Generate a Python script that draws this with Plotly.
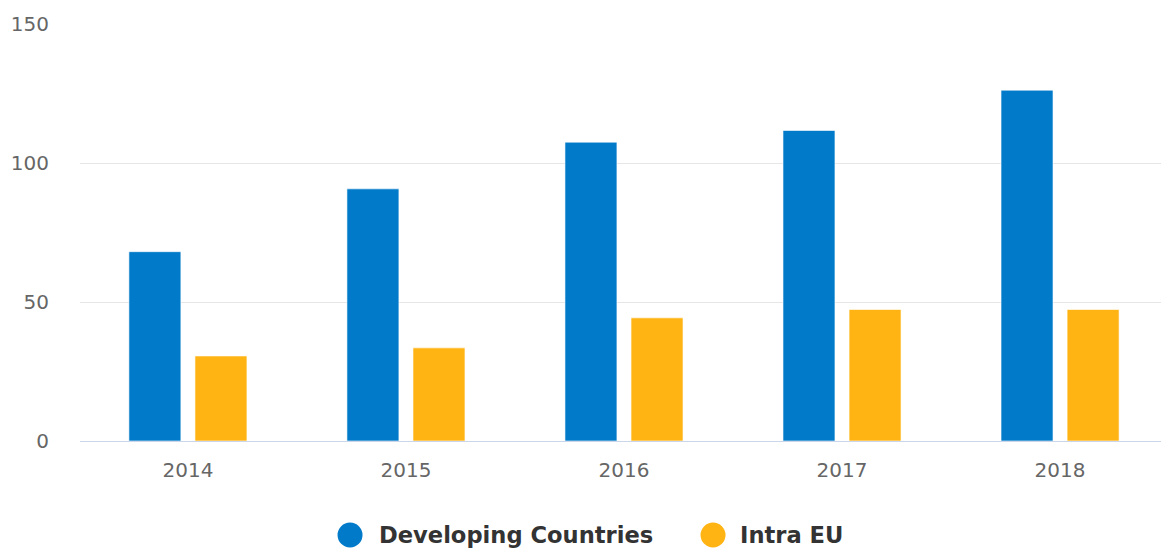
import plotly.graph_objects as go

years = ["2014", "2015", "2016", "2017", "2018"]
developing = [68.1, 90.7, 107.5, 111.7, 126.2]
intra_eu = [30.6, 33.5, 44.3, 47.3, 47.3]
series_names = ["Developing Countries", "Intra EU"]
colors = ["#007ac9", "#ffb414"]
y_ticks = [0, 50, 100, 150]

fig = go.Figure()
for name, vals, col in zip(series_names, [developing, intra_eu], colors):
    fig.add_trace(go.Bar(
        x=years, y=vals, name=name, marker_color=col,
        marker_line=dict(color="rgba(255,255,255,0.6)", width=1),
        showlegend=False, hoverinfo="x+y+name",
    ))

# custom legend (large circle symbols, like the reference)
legend_circle_x = [0.2498, 0.5856]
legend_text_x = [0.2747, 0.6087]
legend_y = -0.2254
for name, col, cx, tx in zip(series_names, colors, legend_circle_x, legend_text_x):
    fig.add_shape(
        type="circle", xref="paper", yref="paper",
        xsizemode="pixel", ysizemode="pixel",
        xanchor=cx, yanchor=legend_y, x0=-12.5, x1=12.5, y0=-12.5, y1=12.5,
        fillcolor=col, line=dict(width=0),
    )
    fig.add_annotation(
        text=name, xref="paper", yref="paper", x=tx, y=legend_y,
        xanchor="left", yanchor="middle", showarrow=False,
        font=dict(family="DejaVu Sans", size=22.6, color="#333333", weight="bold"),
    )

fig.update_layout(
    width=1161, height=549,
    margin=dict(l=80, r=0, t=24, b=108, autoexpand=False),
    paper_bgcolor="white", plot_bgcolor="white",
    barmode="group", bargap=0.394, bargroupgap=0.213,
    font=dict(family="DejaVu Sans", size=20, color="#666666"),
    showlegend=False,
    xaxis=dict(
        type="category", range=[-0.495, 4.463], showgrid=False,
        showline=True, linecolor="#ccd6eb", linewidth=1,
        ticks="", tickfont=dict(size=20, color="#666666"),
        ticklabelstandoff=11, zeroline=False,
    ),
    yaxis=dict(
        range=[0, 150], tickvals=y_ticks, showgrid=True, gridcolor="#e6e6e6",
        gridwidth=1, zeroline=False, showline=False, ticks="",
        tickfont=dict(size=20, color="#666666"), ticklabelstandoff=30,
    ),
)
fig.write_html("out.html", config={"displayModeBar": False},
               post_script="document.body.style.margin='0';")
